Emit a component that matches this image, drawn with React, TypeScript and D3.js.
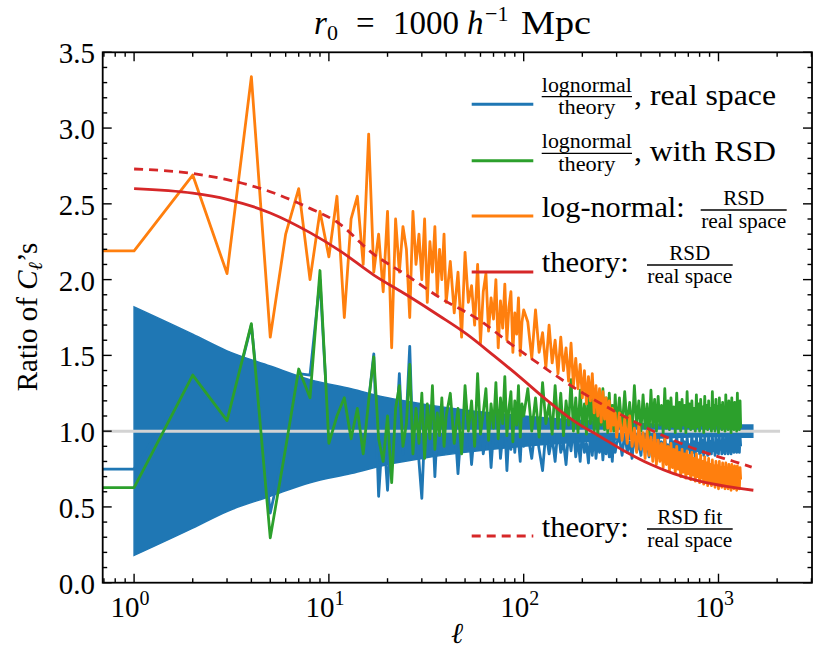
import React from 'react';
import * as d3 from 'd3';

const W = 816;
const H = 652;
const FRAME = { left: 102.7, right: 812, top: 52.3, bottom: 582.7 };
const FONT = "'Liberation Serif', 'DejaVu Serif', serif";

const C0 = '#1f77b4';
const C1 = '#ff7f0e';
const C2 = '#2ca02c';
const C3 = '#d62728';
const GRAY = '#d3d3d3';

const xDomain = [0.69, 3020];
const yDomain = [0, 3.5];
const xMajorExps = [0, 1, 2, 3];
const yMajorTicks = [0, 0.5, 1, 1.5, 2, 2.5, 3, 3.5];

// segments of multipoles: [start, step, count]
const segLow = [1, 1, 40];
const segMid = [42, 2, 30];
const segHighA = [105, 5, 40];
const segHighB = [310, 10, 100];

// lognormal / theory, real space (blue)
const blueEll0 = 0.75;
const blueLow = [0.75, 1.35, 1.06, 1.70, 0.46, 0.92, 1.38, 1.37, 2.00, 0.95, 1.12, 1.18, 0.98, 1.10, 0.88, 1.20, 1.51, 0.57, 1.05, 0.61, 1.10, 0.92, 1.38, 0.85, 1.10, 1.56, 0.90, 1.05, 0.80, 0.557, 1.00, 1.12, 0.88, 1.08, 0.70, 1.02, 0.92, 1.10, 0.85, 1.00];
const blueMid = [0.95, 1.10, 0.72, 1.05, 0.90, 1.08, 0.78, 1.02, 0.93, 1.12, 0.85, 0.98, 1.06, 0.76, 1.00, 0.92, 1.10, 0.82, 0.97, 1.04, 0.74, 0.99, 0.88, 1.06, 0.86, 1.01, 0.94, 0.80, 1.03, 0.90];
const blueHighA = [0.98, 0.82, 1.04, 0.88, 0.74, 1.00, 0.85, 0.96, 0.80, 1.02, 0.86, 0.93, 0.78, 0.99, 0.87, 1.03, 0.83, 0.95, 0.80, 1.00, 0.86, 0.92, 0.79, 0.98, 0.84, 1.01, 0.82, 0.94, 0.86, 0.99, 0.81, 0.96, 0.85, 1.00, 0.83, 0.93, 0.80, 0.97, 0.86, 0.92];
const blueHighB = [0.96, 0.84, 0.99, 0.86, 0.93, 0.82, 0.98, 0.87, 0.92, 0.84, 1.00, 0.86, 0.94, 0.83, 0.97, 0.88, 0.92, 0.84, 0.99, 0.86, 0.93, 0.83, 0.96, 0.87, 0.91, 0.84, 0.98, 0.85, 0.93, 0.83, 0.97, 0.87, 0.92, 0.84, 0.99, 0.86, 0.93, 0.84, 0.96, 0.88, 0.91, 0.84, 0.98, 0.86, 0.93, 0.83, 0.97, 0.87, 0.92, 0.85, 0.99, 0.86, 0.94, 0.84, 0.96, 0.88, 0.92, 0.84, 0.98, 0.86, 0.93, 0.85, 0.97, 0.87, 0.92, 0.84, 0.99, 0.86, 0.94, 0.85, 0.96, 0.88, 0.92, 0.85, 0.98, 0.86, 0.93, 0.85, 0.97, 0.88, 0.92, 0.85, 0.98, 0.87, 0.94, 0.85, 0.96, 0.88, 0.93, 0.86, 0.98, 0.87, 0.94, 0.86, 0.97, 0.88, 0.93, 0.86, 0.97, 0.90];

// lognormal / theory, with RSD (green)
const greenEll0 = 0.627;
const greenLow = [0.627, 1.37, 1.07, 1.71, 0.296, 0.89, 1.41, 1.22, 2.06, 0.92, 1.10, 1.22, 0.95, 1.15, 0.85, 1.20, 1.49, 0.95, 0.80, 1.10, 0.66, 1.15, 1.30, 0.90, 1.05, 1.44, 0.85, 1.15, 0.92, 1.25, 0.82, 1.18, 0.95, 1.30, 0.88, 1.12, 0.97, 1.22, 0.90, 1.10];
const greenMid = [1.25, 0.92, 1.15, 0.85, 1.30, 1.00, 1.20, 0.90, 1.38, 0.98, 1.12, 1.28, 0.94, 1.18, 1.02, 1.32, 0.95, 1.22, 1.05, 1.36, 0.97, 1.15, 1.26, 0.93, 1.20, 1.04, 1.30, 0.96, 1.18, 1.10];
const greenHighA = [1.28, 1.00, 1.22, 0.96, 1.32, 1.05, 1.18, 0.98, 1.30, 1.02, 1.25, 0.97, 1.20, 1.04, 1.34, 1.00, 1.22, 0.99, 1.27, 1.03, 1.18, 0.98, 1.30, 1.05, 1.21, 1.00, 1.26, 0.97, 1.19, 1.04, 1.28, 1.01, 1.22, 0.99, 1.25, 1.03, 1.17, 1.00, 1.24, 1.02];
const greenHighB = [1.22, 1.01, 1.26, 1.03, 1.19, 0.99, 1.30, 1.04, 1.20, 1.00, 1.24, 1.02, 1.18, 0.98, 1.27, 1.03, 1.21, 1.00, 1.23, 1.04, 1.17, 0.99, 1.28, 1.02, 1.20, 1.01, 1.22, 1.03, 1.16, 0.99, 1.25, 1.02, 1.19, 1.00, 1.21, 1.04, 1.17, 0.99, 1.26, 1.03, 1.18, 1.01, 1.20, 1.02, 1.15, 1.00, 1.24, 1.03, 1.18, 1.00, 1.21, 1.04, 1.16, 0.99, 1.23, 1.02, 1.17, 1.01, 1.20, 1.03, 1.15, 1.00, 1.26, 1.02, 1.17, 1.00, 1.21, 1.04, 1.16, 0.99, 1.22, 1.03, 1.17, 1.01, 1.19, 1.02, 1.15, 1.00, 1.24, 1.03, 1.17, 1.01, 1.20, 1.04, 1.16, 0.99, 1.22, 1.02, 1.17, 1.01, 1.19, 1.03, 1.15, 1.00, 1.25, 1.02, 1.18, 1.01, 1.20, 1.02];

// log-normal: RSD / real space (orange)
const orangeEll0 = 2.19;
const orangeLow = [2.19, 2.69, 2.04, 3.34, 1.62, 2.30, 2.60, 2.00, 2.45, 2.15, 2.55, 1.75, 2.40, 2.55, 2.10, 2.96, 2.05, 2.30, 1.92, 2.45, 1.55, 2.40, 2.05, 2.35, 2.20, 1.75, 2.45, 2.10, 2.30, 2.00, 2.40, 1.85, 2.25, 2.05, 2.35, 1.90, 2.20, 2.00, 2.30, 1.85];
const orangeMid = [2.12, 1.78, 2.05, 1.62, 2.18, 1.85, 1.96, 1.70, 2.10, 1.58, 1.92, 2.04, 1.66, 1.88, 1.74, 2.00, 1.55, 1.86, 1.68, 1.97, 1.60, 1.82, 1.92, 1.52, 1.78, 1.64, 1.88, 1.50, 1.72, 1.80];
const orangeHighA = [1.72, 1.48, 1.80, 1.52, 1.65, 1.42, 1.70, 1.45, 1.60, 1.38, 1.62, 1.40, 1.55, 1.33, 1.58, 1.30, 1.48, 1.28, 1.44, 1.22, 1.40, 1.18, 1.36, 1.20, 1.38, 1.12, 1.30, 1.10, 1.28, 1.06, 1.26, 1.08, 1.22, 1.02, 1.20, 1.00, 1.15, 1.04, 1.12, 0.96];
const orangeHighB = [1.12, 0.94, 1.08, 0.92, 1.10, 0.90, 1.02, 0.86, 1.04, 0.88, 0.99, 0.82, 1.00, 0.84, 0.96, 0.80, 0.98, 0.78, 0.94, 0.80, 0.92, 0.76, 0.95, 0.78, 0.90, 0.74, 0.92, 0.76, 0.88, 0.72, 0.90, 0.75, 0.86, 0.70, 0.88, 0.73, 0.85, 0.69, 0.87, 0.72, 0.84, 0.68, 0.86, 0.71, 0.82, 0.67, 0.85, 0.70, 0.81, 0.66, 0.84, 0.69, 0.80, 0.65, 0.83, 0.68, 0.79, 0.64, 0.82, 0.67, 0.78, 0.64, 0.81, 0.66, 0.77, 0.63, 0.80, 0.66, 0.77, 0.62, 0.80, 0.65, 0.76, 0.63, 0.79, 0.65, 0.76, 0.62, 0.79, 0.66, 0.75, 0.62, 0.78, 0.65, 0.75, 0.61, 0.78, 0.64, 0.74, 0.62, 0.77, 0.64, 0.74, 0.61, 0.77, 0.65, 0.73, 0.62, 0.76, 0.68];

// cosmic-variance band
const bandEll = [1, 2, 3, 5, 8, 13, 20, 30, 50, 100, 200, 500, 1000, 1300, 1500];
const bandUpper = [1.82, 1.64, 1.53, 1.43, 1.34, 1.28, 1.22, 1.18, 1.14, 1.10, 1.07, 1.045, 1.035, 1.04, 1.04];
const bandLower = [0.18, 0.36, 0.47, 0.57, 0.66, 0.72, 0.78, 0.82, 0.86, 0.90, 0.93, 0.955, 0.965, 0.96, 0.96];

// theory curves
const theoryEll = [1, 2, 3, 5, 8, 11.4, 17, 25, 37, 51, 70, 96, 130, 180, 250, 325, 450, 588, 800, 1100, 1510];
const theoryVal = [2.60, 2.57, 2.53, 2.44, 2.31, 2.19, 2.03, 1.90, 1.76, 1.64, 1.50, 1.355, 1.21, 1.07, 0.96, 0.873, 0.78, 0.72, 0.67, 0.635, 0.61];
const fitEll = [1, 2, 3, 5, 8, 11, 16.9, 25, 37.2, 59.7, 85, 121, 180, 267, 400, 588, 850, 1200, 1480];
const fitVal = [2.73, 2.70, 2.66, 2.58, 2.47, 2.38, 2.17, 2.03, 1.88, 1.73, 1.58, 1.44, 1.29, 1.16, 1.04, 0.94, 0.86, 0.80, 0.763];

const grayEnd = 2070;

function segEll(seg: number[]) {
  return d3.range(seg[2]).map((i) => seg[0] + i * seg[1]);
}

function buildSeries(v0: number, low: number[], mid: number[], hA: number[], hB: number[]) {
  const ell = [0, ...segEll(segLow), ...segEll(segMid), ...segEll(segHighA), ...segEll(segHighB)];
  const val = [v0, ...low, ...mid, ...hA, ...hB];
  return ell.map((e, i) => [e, val[i]] as [number, number]);
}

function Frac({ cx, bar, num, den, wNum, wDen, x1, x2 }: { cx: number; bar: number; num: string; den: string; wNum: number; wDen: number; x1: number; x2: number }) {
  return (
    <g>
      <text x={cx - wNum / 2} y={bar - 5} fontSize={20} textLength={wNum} lengthAdjust="spacingAndGlyphs">
        {num}
      </text>
      <line x1={x1} x2={x2} y1={bar} y2={bar} stroke="#000" strokeWidth={1.3} />
      <text x={cx - wDen / 2} y={bar + 17.5} fontSize={20} textLength={wDen} lengthAdjust="spacingAndGlyphs">
        {den}
      </text>
    </g>
  );
}

export default function App() {
  const x = d3.scaleLog().domain(xDomain).range([FRAME.left, FRAME.right]);
  const y = d3.scaleLinear().domain(yDomain).range([FRAME.bottom, FRAME.top]);
  const px = (e: number) => (e <= 0 ? FRAME.left - 5 : x(e));

  const line = d3.line<[number, number]>().x((d) => px(d[0])).y((d) => y(d[1]));
  const smooth = d3.line<[number, number]>().x((d) => x(d[0])).y((d) => y(d[1])).curve(d3.curveMonotoneX);
  const area = d3
    .area<number>()
    .x((_, i) => x(bandEll[i]))
    .y0((_, i) => y(bandLower[i]))
    .y1((_, i) => y(bandUpper[i]))
    .curve(d3.curveMonotoneX);

  const blue = buildSeries(blueEll0, blueLow, blueMid, blueHighA, blueHighB);
  const green = buildSeries(greenEll0, greenLow, greenMid, greenHighA, greenHighB);
  const orange = buildSeries(orangeEll0, orangeLow, orangeMid, orangeHighA, orangeHighB);
  const theory = theoryEll.map((e, i) => [e, theoryVal[i]] as [number, number]);
  const fit = fitEll.map((e, i) => [e, fitVal[i]] as [number, number]);

  const xMinor: number[] = [];
  for (let e = -1; e <= 3; e++) {
    for (let k = 2; k <= 9; k++) {
      const v = k * Math.pow(10, e);
      if (v >= xDomain[0] && v <= xDomain[1]) xMinor.push(v);
    }
  }
  const yMinor = d3.range(0, 36).map((i) => i / 10).filter((v) => !yMajorTicks.some((t) => Math.abs(t - v) < 1e-6));

  const majorLen = 9;
  const minorLen = 4.5;
  const tickW = 1.4;

  const fs = 29;

  return (
    <svg width={W} height={H} style={{ position: 'absolute', left: 0, top: 0, background: '#fff' }} fontFamily={FONT}>
      <defs>
        <clipPath id="plotClip">
          <rect x={FRAME.left} y={FRAME.top} width={FRAME.right - FRAME.left} height={FRAME.bottom - FRAME.top} />
        </clipPath>
      </defs>
      <rect x={0} y={0} width={W} height={H} fill="#fff" />

      <g clipPath="url(#plotClip)">
        <path d={area(bandUpper) || ''} fill={C0} stroke={C0} strokeWidth={1.5} />
        <path d={line(blue) || ''} fill="none" stroke={C0} strokeWidth={2.8} strokeLinejoin="round" />
        <line x1={FRAME.left} x2={x(grayEnd)} y1={y(1)} y2={y(1)} stroke={GRAY} strokeWidth={3} />
        <path d={line(green) || ''} fill="none" stroke={C2} strokeWidth={2.8} strokeLinejoin="round" />
        <path d={line(orange) || ''} fill="none" stroke={C1} strokeWidth={2.8} strokeLinejoin="round" />
        <path d={smooth(theory) || ''} fill="none" stroke={C3} strokeWidth={2.8} />
        <path d={smooth(fit) || ''} fill="none" stroke={C3} strokeWidth={2.8} strokeDasharray="9 6" />
      </g>

      {/* ticks */}
      <g stroke="#000" strokeWidth={tickW}>
        {xMajorExps.map((e) => {
          const xx = x(Math.pow(10, e));
          return (
            <g key={'xm' + e}>
              <line x1={xx} x2={xx} y1={FRAME.bottom} y2={FRAME.bottom - majorLen} />
              <line x1={xx} x2={xx} y1={FRAME.top} y2={FRAME.top + majorLen} />
            </g>
          );
        })}
        {xMinor.map((v, i) => {
          const xx = x(v);
          return (
            <g key={'xn' + i}>
              <line x1={xx} x2={xx} y1={FRAME.bottom} y2={FRAME.bottom - minorLen} />
              <line x1={xx} x2={xx} y1={FRAME.top} y2={FRAME.top + minorLen} />
            </g>
          );
        })}
        {yMajorTicks.map((v) => (
          <g key={'ym' + v}>
            <line x1={FRAME.left} x2={FRAME.left + majorLen} y1={y(v)} y2={y(v)} />
            <line x1={FRAME.right} x2={FRAME.right - majorLen} y1={y(v)} y2={y(v)} />
          </g>
        ))}
        {yMinor.map((v, i) => (
          <g key={'yn' + i}>
            <line x1={FRAME.left} x2={FRAME.left + minorLen} y1={y(v)} y2={y(v)} />
            <line x1={FRAME.right} x2={FRAME.right - minorLen} y1={y(v)} y2={y(v)} />
          </g>
        ))}
      </g>
      <rect x={FRAME.left} y={FRAME.top} width={FRAME.right - FRAME.left} height={FRAME.bottom - FRAME.top} fill="none" stroke="#000" strokeWidth={1.8} />

      {/* tick labels */}
      {yMajorTicks.map((v) => (
        <text key={'yl' + v} x={95} y={y(v) + 11} textAnchor="end" fontSize={fs} fill="#000">
          {v.toFixed(1)}
        </text>
      ))}
      {xMajorExps.map((e) => (
        <text key={'xl' + e} x={x(Math.pow(10, e)) - 4} y={617} textAnchor="middle" fontSize={fs} fill="#000">
          10
          <tspan fontSize={20} dy={-12}>
            {e}
          </tspan>
        </text>
      ))}

      {/* axis labels */}
      <text x={457} y={643} textAnchor="middle" fontSize={fs} fontStyle="italic" fill="#000">
        ℓ
      </text>
      <text transform="translate(37,317) rotate(-90)" textAnchor="middle" fontSize={fs} fill="#000">
        Ratio of <tspan fontStyle="italic">C</tspan>
        <tspan fontStyle="italic" fontSize={20} dy={5}>
          ℓ
        </tspan>
        <tspan dy={-5}>’s</tspan>
      </text>

      {/* title */}
      <g fill="#000" fontSize={33}>
        <text x={314} y={34} fontStyle="italic">r</text>
        <text x={327} y={40} fontSize={22}>0</text>
        <text x={356} y={34}>=</text>
        <text x={393} y={34}>1000</text>
        <text x={467} y={34} fontStyle="italic">h</text>
        <text x={485} y={21} fontSize={22}>−1</text>
        <text x={521} y={34} textLength={70} lengthAdjust="spacingAndGlyphs">Mpc</text>
      </g>

      {/* legend */}
      <g fill="#000">
        <line x1={471.7} x2={533.3} y1={104.3} y2={104.3} stroke={C0} strokeWidth={3} />
        <Frac cx={586.8} bar={96.7} num="lognormal" den="theory" wNum={90} wDen={57} x1={541.7} x2={632} />
        <text x={634} y={105} fontSize={fs} textLength={142} lengthAdjust="spacingAndGlyphs">, real space</text>

        <line x1={471.7} x2={533.3} y1={160.7} y2={160.7} stroke={C2} strokeWidth={3} />
        <Frac cx={586.8} bar={153.3} num="lognormal" den="theory" wNum={90} wDen={57} x1={541.7} x2={632} />
        <text x={634} y={161} fontSize={fs} textLength={142} lengthAdjust="spacingAndGlyphs">, with RSD</text>

        <line x1={471.7} x2={533.3} y1={216} y2={216} stroke={C1} strokeWidth={3} />
        <text x={541.7} y={216.7} fontSize={fs} textLength={143} lengthAdjust="spacingAndGlyphs">log-normal:</text>
        <Frac cx={743.7} bar={210} num="RSD" den="real space" wNum={41} wDen={85} x1={700.7} x2={786.7} />

        <line x1={471.7} x2={533.3} y1={272} y2={272} stroke={C3} strokeWidth={3} />
        <text x={541.7} y={272.3} fontSize={fs} textLength={87} lengthAdjust="spacingAndGlyphs">theory:</text>
        <Frac cx={689.8} bar={265} num="RSD" den="real space" wNum={41} wDen={85} x1={647} x2={732.7} />

        <line x1={471.7} x2={533.3} y1={536} y2={536} stroke={C3} strokeWidth={3} strokeDasharray="9 6" />
        <text x={541.7} y={536.7} fontSize={fs} textLength={87} lengthAdjust="spacingAndGlyphs">theory:</text>
        <Frac cx={689.8} bar={529} num="RSD fit" den="real space" wNum={65} wDen={85} x1={647} x2={732.7} />
      </g>
    </svg>
  );
}
